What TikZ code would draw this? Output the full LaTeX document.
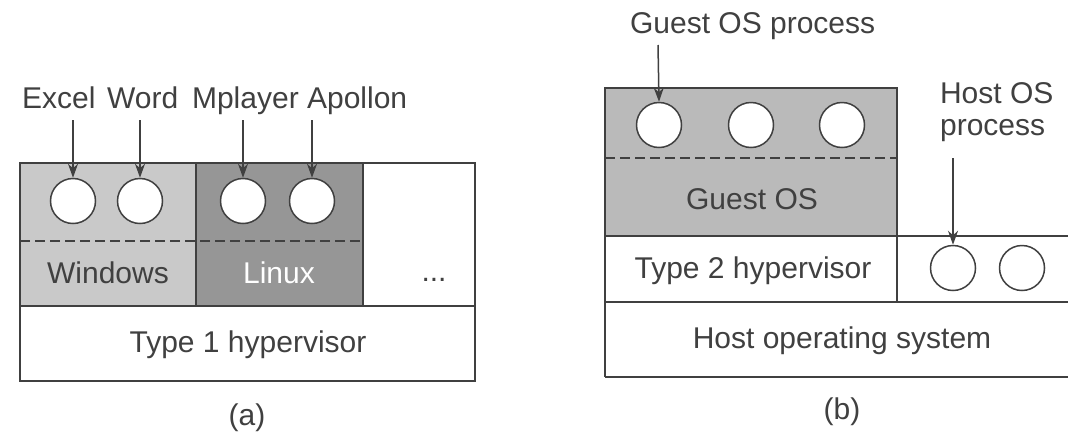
\documentclass[tikz,border=0pt]{standalone}
\usepackage{fontspec}
\setmainfont{Liberation Sans}
\usetikzlibrary{arrows.meta}
\definecolor{ink}{gray}{0.25}
\definecolor{winfill}{gray}{0.79}
\definecolor{linfill}{gray}{0.59}
\definecolor{guestfill}{gray}{0.73}
\begin{document}
\begin{tikzpicture}[x=0.5pt,y=-0.5pt,
  every node/.style={font=\fontsize{15}{16}\selectfont, text=ink},
  lbl/.style={anchor=base},
  lblw/.style={anchor=base west},
  box/.style={draw=ink, line width=0.75pt},
  proc/.style={circle, draw=ink, fill=white, line width=0.75pt, minimum size=22.5pt, inner sep=0pt},
  ptr/.style={draw=ink, line width=0.75pt, -{Stealth[length=7pt,width=5pt]}},
  sep/.style={draw=ink, line width=0.6pt, dash pattern=on 5pt off 2.5pt}
]
\useasboundingbox (0,0) rectangle (1068,434);

% ---------------- (a) ----------------
\fill[winfill] (20,163) rectangle (196,306);
\fill[linfill] (196,163) rectangle (363,306);
\draw[box] (20,163) rectangle (475,381);
\draw[box] (20,306) -- (475,306);
\draw[box] (196,163) -- (196,306);
\draw[box] (363,163) -- (363,306);
\draw[sep] (20,241) -- (363,241);

\node[proc] (a1) at (73,201) {};
\node[proc] (a2) at (140,201) {};
\node[proc] (a3) at (243,201) {};
\node[proc] (a4) at (312,201) {};

\node[lblw] (excel) at (15,108) {Excel};
\node[lblw] (word) at (100,108) {Word};
\node[lblw] (mplayer) at (185,108) {Mplayer};
\node[lblw] (apollon) at (300,108) {Apollon};

\coordinate (e1) at (73,120);
\coordinate (e2) at (140,120);
\coordinate (e3) at (243,120);
\coordinate (e4) at (312,120);
\draw[ptr] (e1) -- (a1.north);
\draw[ptr] (e2) -- (a2.north);
\draw[ptr] (e3) -- (a3.north);
\draw[ptr] (e4) -- (a4.north);

\node[lbl] (win) at (108,283) {Windows};
\node[lbl, text=white] (lin) at (279,283) {Linux};
\node[lbl] (dots) at (434,281) {...};
\node[lbl] (t1) at (248,352) {Type 1 hypervisor};
\node (capa) at (247,418) {(a)};

% ---------------- (b) ----------------
\fill[guestfill] (605,88) rectangle (897,236);
\draw[box] (605,88) rectangle (897,236);
\draw[sep] (605,158) -- (897,158);
\draw[box] (897,236) -- (1068,236);
\draw[box] (605,236) -- (605,377);
\draw[box] (897,236) -- (897,302);
\draw[box] (605,302) -- (1068,302);
\draw[box] (605,377) -- (1068,377);

\node[proc] (g1) at (659,125) {};
\node[proc] (g2) at (751,125) {};
\node[proc] (g3) at (842,125) {};
\node[proc] (h1) at (953,268) {};
\node[proc] (h2) at (1022,268) {};

\node[lblw] (gproc) at (623,33) {Guest OS process};
\node[lblw, align=left] (hproc) at (933,135) {Host OS\\process};
\coordinate (gs) at (658,45);
\coordinate (hs) at (953,158);
\draw[ptr] (gs) -- (g1.north);
\draw[ptr] (hs) -- (h1.north);

\node[lbl] (guest) at (752,209) {Guest OS};
\node[lbl] (t2) at (753,278) {Type 2 hypervisor};
\node[lbl] (host) at (842,348) {Host operating system};
\node (capb) at (842,412) {(b)};
\end{tikzpicture}
\end{document}
